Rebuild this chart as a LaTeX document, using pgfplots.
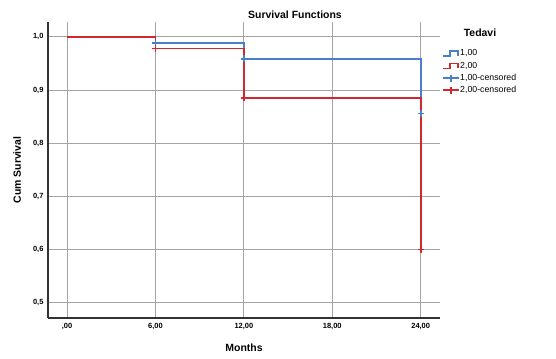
\documentclass[border=0pt]{standalone}
\usepackage{pgfplots}
\pgfplotsset{compat=1.18}
\usepackage{fontspec}
\setmainfont{Liberation Sans}
\definecolor{kmblue}{RGB}{74,128,202}
\definecolor{kmred}{RGB}{208,40,46}
\definecolor{gridc}{RGB}{165,165,165}
\pgfplotsset{
  kmstepblue/.style={legend image code/.code={\draw[kmblue, line width=1.6pt] (0pt,-2.5pt)--(7pt,-2.5pt)--(7pt,2.5pt)--(15pt,2.5pt)--(15pt,-2pt);}},
  kmstepred/.style={legend image code/.code={\draw[kmred, line width=1.6pt] (0pt,-2.5pt)--(7pt,-2.5pt)--(7pt,2.5pt)--(15pt,2.5pt)--(15pt,-2pt);}},
  kmcensblue/.style={legend image code/.code={\draw[kmblue, line width=1.6pt] (0pt,0pt)--(16pt,0pt); \draw[kmblue, line width=1.6pt] (8pt,-3.5pt)--(8pt,3.5pt);}},
  kmcensred/.style={legend image code/.code={\draw[kmred, line width=1.6pt] (0pt,0pt)--(16pt,0pt); \draw[kmred, line width=1.6pt] (8pt,-3.5pt)--(8pt,3.5pt);}},
}
\begin{document}
\begin{tikzpicture}[x=1bp,y=1bp]
\path[use as bounding box] (0,0) rectangle (556,358);
\begin{axis}[
  at={(48bp,40bp)}, anchor=south west,
  scale only axis, width=392bp, height=296bp,
  xmin=-1.29, xmax=25.31, ymin=0.471, ymax=1.028,
  axis x line*=bottom, axis y line*=left,
  axis line style={-, black!80, line width=1.3pt},
  xtick={0,6,12,18,24},
  xticklabels={{,00},{6,00},{12,00},{18,00},{24,00}},
  ytick={0.5,0.6,0.7,0.8,0.9,1.0},
  yticklabels={{0,5},{0,6},{0,7},{0,8},{0,9},{1,0}},
  major tick length=0pt,
  tick label style={font=\fontsize{7.5}{8}\selectfont\bfseries},
  /pgf/number format/assume math mode=true,
  yticklabel style={xshift=-1bp},
  xticklabel style={yshift=-2bp},
  grid=major,
  major grid style={gridc, line width=0.9pt},
  xlabel={Months}, ylabel={Cum Survival},
  label style={font=\fontsize{10.5}{12}\selectfont\bfseries},
  xlabel style={at={(rel axis cs:0.5,-0.101)}, anchor=center},
  ylabel style={at={(rel axis cs:-0.079,0.5)}, anchor=center},
  clip=false,
  legend style={at={(rel axis cs:1.005,0.908)}, anchor=north west, draw=none, fill=none,
    inner sep=0pt, row sep=3.7pt,
    font=\fontsize{8.8}{9}\selectfont,
    nodes={inner sep=0.5pt, text height=6pt, text depth=1.5pt}},
  legend cell align=left,
]
\addlegendimage{kmstepblue}
\addlegendentry{1,00}
\addlegendimage{kmstepred}
\addlegendentry{2,00}
\addlegendimage{kmcensblue}
\addlegendentry{1,00-censored}
\addlegendimage{kmcensred}
\addlegendentry{2,00-censored}
% Group 1,00
\addplot[kmblue, line width=1.7pt, const plot, forget plot] coordinates {(0,1.0) (6,0.989) (12,0.959) (24,0.856)};
% Group 2,00
\addplot[kmred, line width=1.7pt, const plot, forget plot] coordinates {(0,1.0) (6,0.978) (12,0.885) (24,0.600)};
% censored marks
\addplot[kmblue, only marks, mark=+, mark size=3.2pt, line width=1.8pt, forget plot] coordinates {(6,0.989) (12,0.959) (24,0.856)};
\addplot[kmred, only marks, mark=+, mark size=3.2pt, line width=1.8pt, forget plot] coordinates {(6,0.978) (12,0.885) (24,0.600)};
\node[font=\fontsize{10.5}{12}\selectfont\bfseries] at (rel axis cs:0.630,1.025) {Survival Functions};
\node[font=\fontsize{10.5}{12}\selectfont\bfseries] at (rel axis cs:1.102,0.963) {Tedavi};
\end{axis}
\end{tikzpicture}
\end{document}
